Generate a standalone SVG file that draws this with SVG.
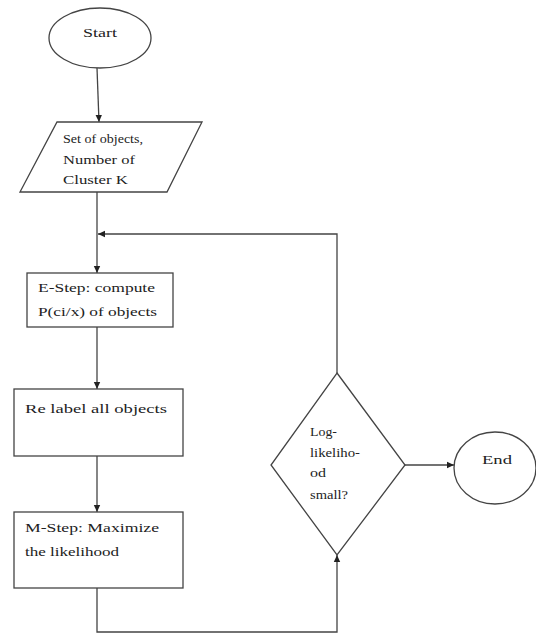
<svg xmlns="http://www.w3.org/2000/svg" width="536" height="634" viewBox="0 0 536 634">
<style>
.shape{fill:#fff;stroke:#444;stroke-width:1.3}
.conn{fill:none;stroke:#444;stroke-width:1.3}
.lbl{font-family:"Liberation Serif","DejaVu Serif","Times New Roman",serif;font-size:13px;fill:#222}
.sm{font-size:12px}
</style>
<defs>
<marker id="ah" markerWidth="8" markerHeight="8" refX="7" refY="4" orient="auto" markerUnits="userSpaceOnUse">
<path d="M0,0.8 L7,4 L0,7.2 Z" fill="#222"/>
</marker>
</defs>
<rect width="536" height="634" fill="#fff"/>
<g id="connectors">
<path class="conn" d="M97,68 L99,122" marker-end="url(#ah)"/>
<path class="conn" d="M97,192 L97,273" marker-end="url(#ah)"/>
<path class="conn" d="M337,373 L337,234 L98,234" marker-end="url(#ah)"/>
<path class="conn" d="M97,327 L97,389" marker-end="url(#ah)"/>
<path class="conn" d="M97,456 L97,512" marker-end="url(#ah)"/>
<path class="conn" d="M97,588 L97,632 L337,632 L337,555" marker-end="url(#ah)"/>
<path class="conn" d="M405,465 L454,465" marker-end="url(#ah)"/>
</g>
<g id="start">
<ellipse class="shape" cx="100" cy="38" rx="51" ry="30"/>
<text class="lbl" font-family="Liberation Serif, serif" x="83" y="37" textLength="34" lengthAdjust="spacingAndGlyphs">Start</text>
</g>
<g id="input">
<polygon class="shape" points="57,122 202,122 167,192 20,192"/>
<text class="lbl" x="63" y="143" textLength="80" lengthAdjust="spacingAndGlyphs">Set of objects,</text>
<text class="lbl" x="63" y="164" textLength="72" lengthAdjust="spacingAndGlyphs">Number of</text>
<text class="lbl" x="63" y="184" textLength="65" lengthAdjust="spacingAndGlyphs">Cluster K</text>
</g>
<g id="estep">
<rect class="shape" x="27" y="273" width="146" height="54"/>
<text class="lbl" x="38" y="292" textLength="117" lengthAdjust="spacingAndGlyphs">E-Step: compute</text>
<text class="lbl" x="38" y="316" textLength="119" lengthAdjust="spacingAndGlyphs">P(ci/x) of objects</text>
</g>
<g id="relabel">
<rect class="shape" x="14" y="389" width="169" height="67"/>
<text class="lbl" x="25" y="413" textLength="142" lengthAdjust="spacingAndGlyphs">Re label all objects</text>
</g>
<g id="mstep">
<rect class="shape" x="14" y="512" width="169" height="76"/>
<text class="lbl" x="25" y="532" textLength="134" lengthAdjust="spacingAndGlyphs">M-Step:  Maximize</text>
<text class="lbl" x="25" y="556" textLength="94" lengthAdjust="spacingAndGlyphs">the likelihood</text>
</g>
<g id="decision">
<polygon class="shape" points="337,373 405,465 337,555 271,465"/>
<text class="lbl sm" x="310" y="436" textLength="27" lengthAdjust="spacingAndGlyphs">Log-</text>
<text class="lbl sm" x="310" y="457" textLength="50" lengthAdjust="spacingAndGlyphs">likeliho-</text>
<text class="lbl sm" x="310" y="477" textLength="16" lengthAdjust="spacingAndGlyphs">od</text>
<text class="lbl sm" x="310" y="499" textLength="38" lengthAdjust="spacingAndGlyphs">small?</text>
</g>
<g id="end">
<ellipse class="shape" cx="495" cy="468" rx="41" ry="36"/>
<text class="lbl" x="482" y="464" textLength="30" lengthAdjust="spacingAndGlyphs">End</text>
</g>
</svg>
